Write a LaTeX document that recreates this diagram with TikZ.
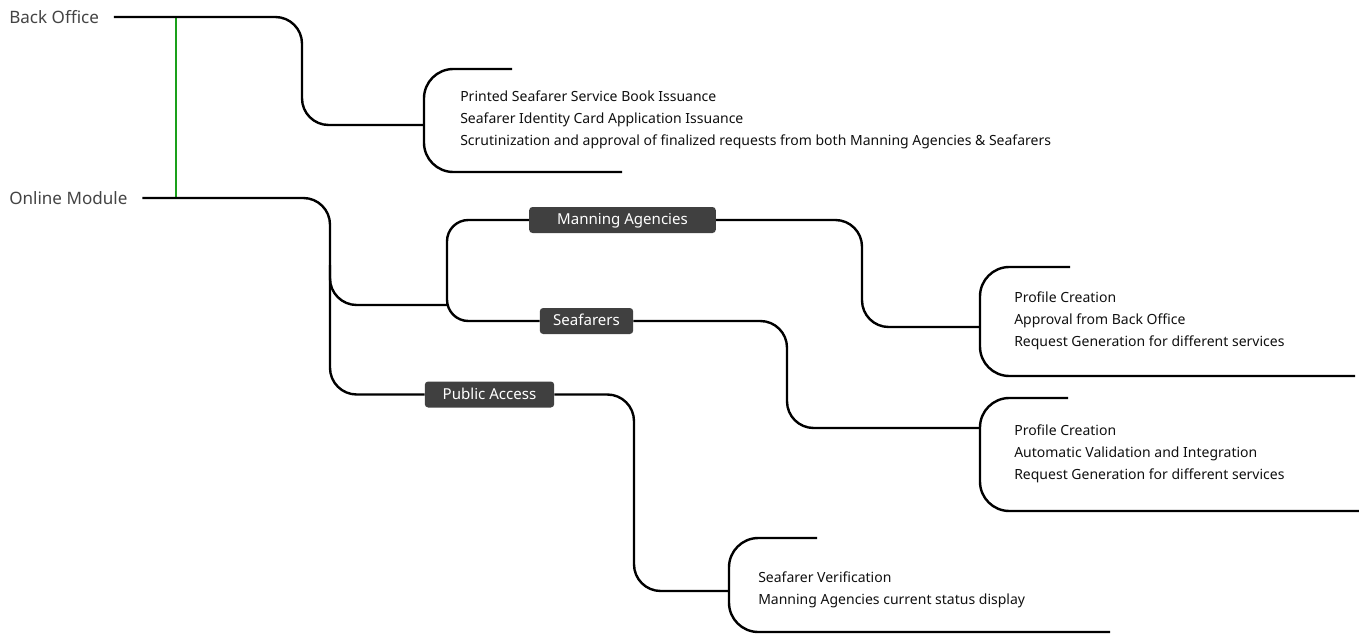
\documentclass[tikz,border=0pt]{standalone}
\usepackage{fontspec}
\setmainfont{Noto Sans}
\usetikzlibrary{calc}
\definecolor{boxgray}{HTML}{404040}
\definecolor{topicgray}{HTML}{444444}
\definecolor{itemtext}{HTML}{101010}
\definecolor{linkgreen}{HTML}{1AA01A}

\begin{document}
\begin{tikzpicture}[x=0.75pt,y=-0.75pt,
  conn/.style={line width=1.8pt,rounded corners=20pt},
  brace/.style={line width=1.8pt,rounded corners=22pt},
  topic/.style={anchor=west,inner sep=0,text=topicgray,font=\fontsize{12.8}{15}\selectfont},
  sub/.style={fill=boxgray,text=white,rounded corners=2.5pt,inner sep=0,minimum height=19.5pt,text height=8pt,text depth=1pt,font=\fontsize{11.3}{13}\selectfont},
  items/.style={anchor=west,align=left,inner sep=0,text=itemtext,font=\fontsize{10.5}{16.5}\selectfont}]
  \useasboundingbox (0,0) rectangle (1359,635);

  % main topics
  \node[topic] (bo) at (9,17) {Back Office};
  \node[topic] (om) at (9,198) {Online Module};
  \coordinate (gx) at (176,0);
  \draw[linkgreen,line width=1.6pt] (bo.east -| gx) -- (om.east -| gx);

  % sub topics
  \node[sub,minimum width=140pt] (ma) at (622.5,220) {Manning Agencies};
  \node[sub,minimum width=70pt] (sf) at (586.5,321) {Seafarers};
  \node[sub,minimum width=97pt] (pa) at (489.5,394.5) {Public Access};

  % item lists
  \node[items] (boList) at (460,120) {Printed Seafarer Service Book Issuance\\Seafarer Identity Card Application Issuance\\Scrutinization and approval of finalized requests from both Manning Agencies \& Seafarers};
  \node[items] (maList) at (1014,321) {Profile Creation\\Approval from Back Office\\Request Generation for different services};
  \node[items] (sfList) at (1014,454) {Profile Creation\\Automatic Validation and Integration\\Request Generation for different services};
  \node[items] (paList) at (758,590) {Seafarer Verification\\Manning Agencies current status display};

  % braces round the lists
  \coordinate (boIn) at (424,125);
  \coordinate (maIn) at (980,327);
  \coordinate (sfIn) at (980,428);
  \coordinate (paIn) at (729,591);
  \draw[brace] (512,69) -- (boIn |- 0,69) -- (boIn |- 0,172) -- (622,172);
  \draw[brace] (1070,267) -- (maIn |- 0,267) -- (maIn |- 0,376) -- (1355,376);
  \draw[brace] (1068,398) -- (sfIn |- 0,398) -- (sfIn |- 0,511) -- (1359,511);
  \draw[brace] (817,538) -- (paIn |- 0,538) -- (paIn |- 0,632) -- (1110,632);

  % connectors
  \draw[conn] ([xshift=11pt]bo.east) -| (302,125) -- (boIn);
  \draw[conn] ([xshift=11pt]om.east) -| (330,394.5) -- (pa.west);
  \draw[conn] (330,265) -- (330,305) -- (447,305);
  \draw[conn,rounded corners=16pt] (ma.west) -- (447,220) -- (447,321) -- (sf.west);
  \draw[conn] (ma.east) -| (862,327) -- (maIn);
  \draw[conn] (sf.east) -| (787,428) -- (sfIn);
  \draw[conn] (pa.east) -| (634,591) -- (paIn);
\end{tikzpicture}
\end{document}
